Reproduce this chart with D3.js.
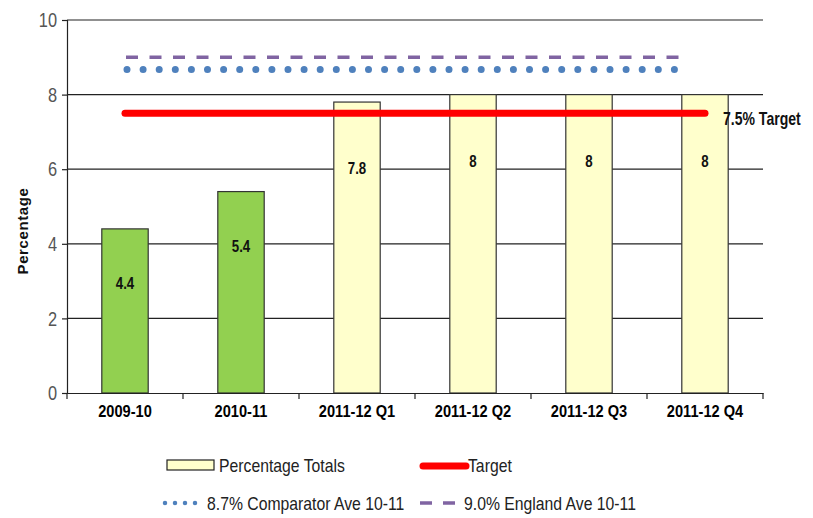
<!DOCTYPE html>
<html><head><meta charset="utf-8">
<script src="https://cdn.jsdelivr.net/npm/d3@7"></script>
<style>
body{margin:0;background:#fff;}
text{font-family:"Liberation Sans",Arial,sans-serif;}
</style></head>
<body><svg id="c" width="813" height="518"></svg>
<script>
const categories = ["2009-10","2010-11","2011-12 Q1","2011-12 Q2","2011-12 Q3","2011-12 Q4"];
const values = [4.4, 5.4, 7.8, 8, 8, 8];
const barKinds = ["actual","actual","quarter","quarter","quarter","quarter"];
const target = 7.5;
const comparator = 8.7;
const england = 9.0;
const yTicks = [0,2,4,6,8,10];
const legendLabels = ["Percentage Totals","Target","8.7% Comparator Ave 10-11","9.0% England Ave 10-11"];

const svg = d3.select("#c");
const pL = 67, pR = 763, pT = 20, pB = 393;
const x = d3.scaleBand().domain(categories).range([pL, pR]).paddingInner(0.6).paddingOuter(0.3);
const xb = d3.scaleBand().domain(categories).range([pL, pR]);
const y = d3.scaleLinear().domain([0,10]).range([pB, pT]);

function ctext(parent, tx, ty, str, size, opts={}) {
  const sx = opts.sx || 0.82;
  const g = parent.append("g").attr("transform", `translate(${tx},${ty})`);
  return g.append("text").attr("transform", `scale(${sx},1)`)
    .attr("text-anchor", opts.anchor || "start")
    .attr("font-size", size).attr("font-weight", opts.bold ? "bold" : "normal")
    .attr("fill", opts.fill || "#111").text(str);
}

// gridlines
svg.append("g").selectAll("line").data(yTicks.filter(d=>d>0)).join("line")
  .attr("x1", pL).attr("x2", pR).attr("y1", d=>y(d)).attr("y2", d=>y(d))
  .attr("stroke", "#222").attr("stroke-width", 1.2);

// y axis
const ya = svg.append("g").attr("transform", `translate(${pL},0)`)
  .call(d3.axisLeft(y).tickValues(yTicks).tickSize(5).tickPadding(8));
ya.select(".domain").attr("stroke","#222").attr("stroke-width",1.2);
ya.selectAll(".tick line").attr("stroke","#222").attr("stroke-width",1.2);
ya.selectAll(".tick text").attr("font-size",21).attr("fill","#555")
  .attr("x", -10/0.78).attr("transform","scale(0.78,1)")
  .style("font-family","'Liberation Sans',sans-serif");

// bars
const fills = {actual:"#92D050", quarter:"#FFFFCC"};
svg.append("g").selectAll("rect").data(categories).join("rect")
  .attr("x", d=>x(d)).attr("width", x.bandwidth())
  .attr("y", (d,i)=>y(values[i])).attr("height", (d,i)=>y(0)-y(values[i]))
  .attr("fill", (d,i)=>fills[barKinds[i]]).attr("stroke","#333").attr("stroke-width",1.2);

// x axis
const xa = svg.append("g").attr("transform", `translate(0,${pB})`)
  .call(d3.axisBottom(xb).tickSize(0).tickPadding(12));
xa.select(".domain").attr("stroke","#222").attr("stroke-width",1.2);
xa.selectAll(".tick text").attr("font-size",17).attr("font-weight","bold").attr("fill","#000")
  .attr("transform","scale(0.86,1)");
// category boundary ticks
svg.append("g").selectAll("line").data(d3.range(categories.length+1)).join("line")
  .attr("x1", i=>pL + i*xb.step()).attr("x2", i=>pL + i*xb.step())
  .attr("y1", pB).attr("y2", pB+6).attr("stroke","#222").attr("stroke-width",1.2);

// data labels
const dl = svg.append("g");
categories.forEach((c,i)=>{
  ctext(dl, x(c)+x.bandwidth()/2, y(values[i]) + (barKinds[i]==="actual"?60:72), String(values[i]), 17,
    {bold:true, anchor:"middle", sx:0.78});
});

const x1 = xb(categories[0]) + xb.bandwidth()/2;
const x2 = xb(categories[categories.length-1]) + xb.bandwidth()/2;

// england dashed
svg.append("line").attr("x1", x1+1).attr("x2", x2-15).attr("y1", y(england)).attr("y2", y(england))
  .attr("stroke","#8064A2").attr("stroke-width",3.5).attr("stroke-dasharray","12,11.5");
// comparator dots
svg.append("line").attr("x1", x1+2).attr("x2", x2-15).attr("y1", y(comparator)+1).attr("y2", y(comparator)+1)
  .attr("stroke","#4F81BD").attr("stroke-width",7).attr("stroke-linecap","round").attr("stroke-dasharray","0,16.1");
// target
svg.append("line").attr("x1", x1).attr("x2", x2).attr("y1", y(target)).attr("y2", y(target))
  .attr("stroke","#FF0000").attr("stroke-width",7).attr("stroke-linecap","round");
ctext(svg, x2+18, y(target)+12, "7.5% Target", 18, {bold:true, sx:0.78});

// y title
svg.append("text").attr("transform", `translate(28,231) rotate(-90)`)
  .attr("text-anchor","middle").attr("font-size",15).attr("font-weight","bold").attr("fill","#111")
  .style("letter-spacing","0.6px")
  .text("Percentage");

// legend
const lg = svg.append("g");
lg.append("rect").attr("x",167).attr("y",460).attr("width",47).attr("height",10)
  .attr("fill","#FFFFCC").attr("stroke","#222").attr("stroke-width",1.2);
ctext(lg, 219, 472, legendLabels[0], 19, {fill:"#222", sx:0.83});
lg.append("line").attr("x1",423).attr("x2",466).attr("y1",466).attr("y2",466)
  .attr("stroke","#FF0000").attr("stroke-width",7).attr("stroke-linecap","round");
ctext(lg, 468, 472, legendLabels[1], 19, {fill:"#222", sx:0.83});
lg.append("line").attr("x1",165).attr("x2",205).attr("y1",503).attr("y2",503)
  .attr("stroke","#4F81BD").attr("stroke-width",4.5).attr("stroke-linecap","round").attr("stroke-dasharray","0,10");
ctext(lg, 207, 510, legendLabels[2], 19, {fill:"#222", sx:0.83});
lg.append("line").attr("x1",420).attr("x2",455).attr("y1",503).attr("y2",503)
  .attr("stroke","#8064A2").attr("stroke-width",3.5).attr("stroke-dasharray","12,11");
ctext(lg, 464, 510, legendLabels[3], 19, {fill:"#222", sx:0.83});
</script></body></html>
